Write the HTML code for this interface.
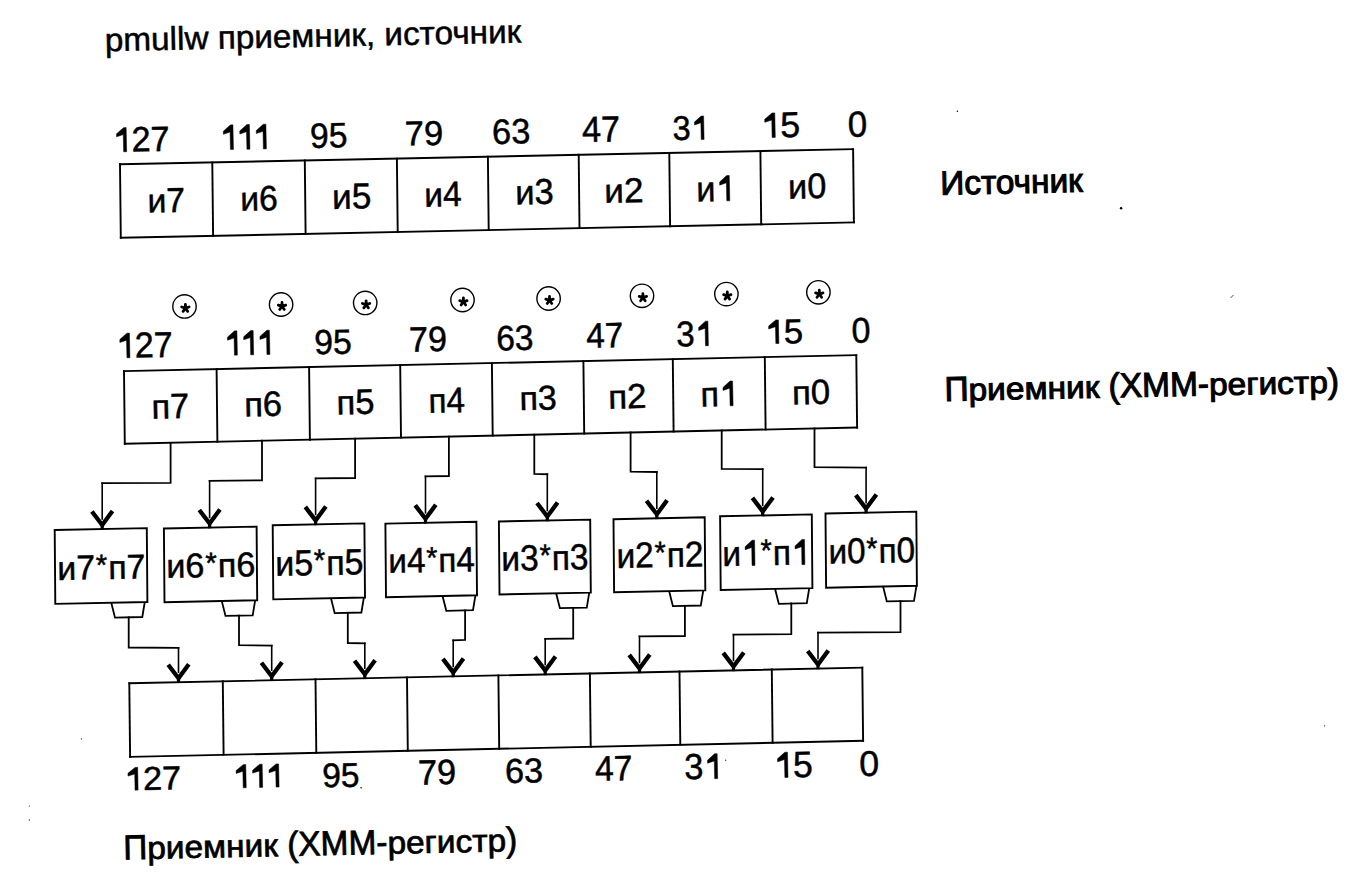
<!DOCTYPE html>
<html><head><meta charset="utf-8"><style>
html,body{margin:0;padding:0;background:#fff;width:1348px;height:877px;overflow:hidden}
svg{display:block}
text{font-family:"Liberation Sans",sans-serif;fill:#000;stroke:#000;stroke-width:0.5px;text-rendering:geometricPrecision}
.h{fill:none;stroke:none}
.one{fill:#000;stroke:#000;stroke-width:0.5px;stroke-linejoin:round}
</style></head><body>
<svg width="1348" height="877" viewBox="0 0 1348 877">
<rect width="1348" height="877" fill="#fff"/>
<g fill="none" stroke="#000" stroke-linejoin="miter" stroke-linecap="square">
<path d="M120.0,164.3 L853.1,149.1" stroke-width="1.9"/>
<path d="M120.8,237.8 L853.9,222.4" stroke-width="1.9"/>
<path d="M120.0,164.3 L120.8,237.8" stroke-width="1.9"/>
<path d="M212.3,162.4 L213.1,235.8" stroke-width="1.9"/>
<path d="M304.8,160.5 L305.6,233.9" stroke-width="1.9"/>
<path d="M396.9,158.6 L397.7,232.0" stroke-width="1.9"/>
<path d="M487.9,156.7 L488.7,230.1" stroke-width="1.9"/>
<path d="M578.7,154.8 L579.5,228.1" stroke-width="1.9"/>
<path d="M669.3,152.9 L670.1,226.2" stroke-width="1.9"/>
<path d="M760.4,151.0 L761.2,224.3" stroke-width="1.9"/>
<path d="M853.1,149.1 L853.9,222.4" stroke-width="1.9"/>
<path d="M124.0,371.1 L856.3,355.1" stroke-width="1.9"/>
<path d="M124.8,443.8 L857.1,427.5" stroke-width="1.9"/>
<path d="M124.0,371.1 L124.8,443.8" stroke-width="1.9"/>
<path d="M216.6,369.1 L217.4,441.7" stroke-width="1.9"/>
<path d="M309.1,367.1 L309.9,439.7" stroke-width="1.9"/>
<path d="M400.2,365.1 L401.0,437.6" stroke-width="1.9"/>
<path d="M491.9,363.1 L492.7,435.6" stroke-width="1.9"/>
<path d="M583.4,361.1 L584.2,433.6" stroke-width="1.9"/>
<path d="M672.8,359.1 L673.6,431.6" stroke-width="1.9"/>
<path d="M764.8,357.1 L765.6,429.5" stroke-width="1.9"/>
<path d="M856.3,355.1 L857.1,427.5" stroke-width="1.9"/>
<path d="M129.3,683.3 L862.3,667.6" stroke-width="1.9"/>
<path d="M130.1,756.9 L863.1,740.8" stroke-width="1.9"/>
<path d="M129.3,683.3 L130.1,756.9" stroke-width="1.9"/>
<path d="M222.8,681.3 L223.6,754.8" stroke-width="1.9"/>
<path d="M315.5,679.3 L316.3,752.8" stroke-width="1.9"/>
<path d="M407.0,677.4 L407.8,750.8" stroke-width="1.9"/>
<path d="M498.4,675.4 L499.2,748.8" stroke-width="1.9"/>
<path d="M589.9,673.4 L590.7,746.8" stroke-width="1.9"/>
<path d="M679.5,671.5 L680.3,744.8" stroke-width="1.9"/>
<path d="M771.8,669.5 L772.6,742.8" stroke-width="1.9"/>
<path d="M862.3,667.6 L863.1,740.8" stroke-width="1.9"/>
<path d="M54.7,530.0 L146.8,528.1 L147.4,602.0 L55.3,603.9 Z" stroke-width="1.9"/>
<path d="M163.9,528.5 L256.6,526.6 L257.2,600.3 L164.5,602.2 Z" stroke-width="1.9"/>
<path d="M272.7,525.3 L364.4,523.4 L365.0,597.5 L273.3,599.4 Z" stroke-width="1.9"/>
<path d="M385.4,523.6 L476.4,521.7 L477.0,595.3 L386.0,597.2 Z" stroke-width="1.9"/>
<path d="M498.9,521.5 L590.2,519.6 L590.8,592.6 L499.5,594.5 Z" stroke-width="1.9"/>
<path d="M613.5,519.2 L704.7,517.3 L705.3,590.4 L614.1,592.3 Z" stroke-width="1.9"/>
<path d="M720.1,516.3 L811.8,514.4 L812.4,588.1 L720.7,590.0 Z" stroke-width="1.9"/>
<path d="M825.5,513.5 L916.3,511.6 L916.9,585.8 L826.1,587.7 Z" stroke-width="1.9"/>
<path d="M111.5,603.7 L115.0,617.6 L142.3,617.0 L144.6,603.0" stroke-width="1.8"/>
<path d="M222.0,602.0 L225.5,615.9 L252.7,615.3 L255.0,601.3" stroke-width="1.8"/>
<path d="M331.2,599.2 L334.7,613.1 L361.4,612.5 L363.7,598.5" stroke-width="1.8"/>
<path d="M442.8,597.0 L446.3,610.8 L473.0,610.2 L475.3,596.3" stroke-width="1.8"/>
<path d="M556.4,594.3 L559.9,608.2 L586.8,607.6 L589.1,593.6" stroke-width="1.8"/>
<path d="M669.4,592.1 L672.9,606.1 L700.8,605.5 L703.1,591.4" stroke-width="1.8"/>
<path d="M775.3,589.8 L778.8,603.8 L806.8,603.2 L809.1,589.1" stroke-width="1.8"/>
<path d="M883.3,587.5 L886.8,601.4 L914.0,600.8 L916.3,586.8" stroke-width="1.8"/>
<path d="M170.6,442.8 L170.6,482.8 L102.2,483.2" stroke-width="1.8"/>
<path d="M102.2,483.2 L102.2,519.0" stroke-width="1.6"/>
<path d="M91.9,511.5 L102.2,525.0 L112.5,511.0" stroke-width="4.3" stroke-linejoin="round" stroke-linecap="butt"/>
<path d="M102.2,525.0 L102.2,529.8" stroke-width="3.2" stroke-linecap="butt"/>
<path d="M262.0,440.7 L262.0,480.4 L209.6,480.8" stroke-width="1.8"/>
<path d="M209.6,480.8 L209.6,517.5" stroke-width="1.6"/>
<path d="M199.3,510.0 L209.6,523.5 L219.9,509.5" stroke-width="4.3" stroke-linejoin="round" stroke-linecap="butt"/>
<path d="M209.6,523.5 L209.6,528.3" stroke-width="3.2" stroke-linecap="butt"/>
<path d="M355.1,438.7 L355.1,478.0 L315.6,478.4" stroke-width="1.8"/>
<path d="M315.6,478.4 L315.6,514.4" stroke-width="1.6"/>
<path d="M305.3,506.9 L315.6,520.4 L325.9,506.4" stroke-width="4.3" stroke-linejoin="round" stroke-linecap="butt"/>
<path d="M315.6,520.4 L315.6,525.2" stroke-width="3.2" stroke-linecap="butt"/>
<path d="M448.9,436.6 L448.9,476.0 L425.5,476.4" stroke-width="1.8"/>
<path d="M425.5,476.4 L425.5,512.8" stroke-width="1.6"/>
<path d="M415.2,505.3 L425.5,518.8 L435.8,504.8" stroke-width="4.3" stroke-linejoin="round" stroke-linecap="butt"/>
<path d="M425.5,518.8 L425.5,523.6" stroke-width="3.2" stroke-linecap="butt"/>
<path d="M534.3,434.7 L534.3,473.8 L547.3,474.2" stroke-width="1.8"/>
<path d="M547.3,474.2 L547.3,510.5" stroke-width="1.6"/>
<path d="M537.0,503.0 L547.3,516.5 L557.6,502.5" stroke-width="4.3" stroke-linejoin="round" stroke-linecap="butt"/>
<path d="M547.3,516.5 L547.3,521.3" stroke-width="3.2" stroke-linecap="butt"/>
<path d="M630.6,432.5 L630.6,471.6 L656.8,472.0" stroke-width="1.8"/>
<path d="M656.8,472.0 L656.8,508.3" stroke-width="1.6"/>
<path d="M646.5,500.8 L656.8,514.3 L667.1,500.3" stroke-width="4.3" stroke-linejoin="round" stroke-linecap="butt"/>
<path d="M656.8,514.3 L656.8,519.1" stroke-width="3.2" stroke-linecap="butt"/>
<path d="M721.7,430.5 L721.7,468.8 L762.7,469.2" stroke-width="1.8"/>
<path d="M762.7,469.2 L762.7,505.4" stroke-width="1.6"/>
<path d="M752.4,497.9 L762.7,511.4 L773.0,497.4" stroke-width="4.3" stroke-linejoin="round" stroke-linecap="butt"/>
<path d="M762.7,511.4 L762.7,516.2" stroke-width="3.2" stroke-linecap="butt"/>
<path d="M814.5,428.4 L814.5,467.2 L866.1,467.6" stroke-width="1.8"/>
<path d="M866.1,467.6 L866.1,502.6" stroke-width="1.6"/>
<path d="M855.8,495.1 L866.1,508.6 L876.4,494.6" stroke-width="4.3" stroke-linejoin="round" stroke-linecap="butt"/>
<path d="M866.1,508.6 L866.1,513.4" stroke-width="3.2" stroke-linecap="butt"/>
<path d="M128.7,617.3 L128.7,647.5 L178.5,647.9" stroke-width="1.8"/>
<path d="M178.5,647.9 L178.5,672.2" stroke-width="1.6"/>
<path d="M168.2,664.7 L178.5,678.2 L188.8,664.2" stroke-width="4.3" stroke-linejoin="round" stroke-linecap="butt"/>
<path d="M178.5,678.2 L178.5,683.0" stroke-width="3.2" stroke-linecap="butt"/>
<path d="M239.0,615.6 L239.0,645.2 L271.7,645.6" stroke-width="1.8"/>
<path d="M271.7,645.6 L271.7,670.2" stroke-width="1.6"/>
<path d="M261.4,662.7 L271.7,676.2 L282.0,662.2" stroke-width="4.3" stroke-linejoin="round" stroke-linecap="butt"/>
<path d="M271.7,676.2 L271.7,681.0" stroke-width="3.2" stroke-linecap="butt"/>
<path d="M347.8,612.8 L347.8,643.0 L364.8,643.4" stroke-width="1.8"/>
<path d="M364.8,643.4 L364.8,668.3" stroke-width="1.6"/>
<path d="M354.5,660.8 L364.8,674.3 L375.1,660.3" stroke-width="4.3" stroke-linejoin="round" stroke-linecap="butt"/>
<path d="M364.8,674.3 L364.8,679.1" stroke-width="3.2" stroke-linecap="butt"/>
<path d="M465.1,610.5 L465.1,640.0 L453.2,640.4" stroke-width="1.8"/>
<path d="M453.2,640.4 L453.2,666.4" stroke-width="1.6"/>
<path d="M442.9,658.9 L453.2,672.4 L463.5,658.4" stroke-width="4.3" stroke-linejoin="round" stroke-linecap="butt"/>
<path d="M453.2,672.4 L453.2,677.2" stroke-width="3.2" stroke-linecap="butt"/>
<path d="M573.2,607.9 L573.2,638.5 L545.2,638.9" stroke-width="1.8"/>
<path d="M545.2,638.9 L545.2,664.4" stroke-width="1.6"/>
<path d="M534.9,656.9 L545.2,670.4 L555.5,656.4" stroke-width="4.3" stroke-linejoin="round" stroke-linecap="butt"/>
<path d="M545.2,670.4 L545.2,675.2" stroke-width="3.2" stroke-linecap="butt"/>
<path d="M684.9,605.8 L684.9,636.0 L639.5,636.4" stroke-width="1.8"/>
<path d="M639.5,636.4 L639.5,662.4" stroke-width="1.6"/>
<path d="M629.2,654.9 L639.5,668.4 L649.8,654.4" stroke-width="4.3" stroke-linejoin="round" stroke-linecap="butt"/>
<path d="M639.5,668.4 L639.5,673.2" stroke-width="3.2" stroke-linecap="butt"/>
<path d="M791.3,603.5 L791.3,634.2 L733.5,634.6" stroke-width="1.8"/>
<path d="M733.5,634.6 L733.5,660.4" stroke-width="1.6"/>
<path d="M723.2,652.9 L733.5,666.4 L743.8,652.4" stroke-width="4.3" stroke-linejoin="round" stroke-linecap="butt"/>
<path d="M733.5,666.4 L733.5,671.2" stroke-width="3.2" stroke-linecap="butt"/>
<path d="M900.5,601.1 L900.5,632.2 L818.0,632.6" stroke-width="1.8"/>
<path d="M818.0,632.6 L818.0,658.5" stroke-width="1.6"/>
<path d="M807.7,651.0 L818.0,664.5 L828.3,650.5" stroke-width="4.3" stroke-linejoin="round" stroke-linecap="butt"/>
<path d="M818.0,664.5 L818.0,669.3" stroke-width="3.2" stroke-linecap="butt"/>
</g>
<circle cx="184.5" cy="306.4" r="11.7" fill="none" stroke="#000" stroke-width="1.4"/>
<path d="M185.4,308.2 l0.00,-3.90 M185.4,308.2 l3.71,-1.21 M185.4,308.2 l2.29,3.16 M185.4,308.2 l-2.29,3.16 M185.4,308.2 l-3.71,-1.21" stroke="#000" stroke-width="2.8" stroke-linecap="round" fill="none"/>
<circle cx="281.1" cy="304.5" r="11.7" fill="none" stroke="#000" stroke-width="1.4"/>
<path d="M282.0,306.3 l0.00,-3.90 M282.0,306.3 l3.71,-1.21 M282.0,306.3 l2.29,3.16 M282.0,306.3 l-2.29,3.16 M282.0,306.3 l-3.71,-1.21" stroke="#000" stroke-width="2.8" stroke-linecap="round" fill="none"/>
<circle cx="365.2" cy="302.9" r="11.7" fill="none" stroke="#000" stroke-width="1.4"/>
<path d="M366.1,304.7 l0.00,-3.90 M366.1,304.7 l3.71,-1.21 M366.1,304.7 l2.29,3.16 M366.1,304.7 l-2.29,3.16 M366.1,304.7 l-3.71,-1.21" stroke="#000" stroke-width="2.8" stroke-linecap="round" fill="none"/>
<circle cx="462.5" cy="300.0" r="11.7" fill="none" stroke="#000" stroke-width="1.4"/>
<path d="M463.4,301.8 l0.00,-3.90 M463.4,301.8 l3.71,-1.21 M463.4,301.8 l2.29,3.16 M463.4,301.8 l-2.29,3.16 M463.4,301.8 l-3.71,-1.21" stroke="#000" stroke-width="2.8" stroke-linecap="round" fill="none"/>
<circle cx="548.6" cy="298.5" r="11.7" fill="none" stroke="#000" stroke-width="1.4"/>
<path d="M549.5,300.3 l0.00,-3.90 M549.5,300.3 l3.71,-1.21 M549.5,300.3 l2.29,3.16 M549.5,300.3 l-2.29,3.16 M549.5,300.3 l-3.71,-1.21" stroke="#000" stroke-width="2.8" stroke-linecap="round" fill="none"/>
<circle cx="642.0" cy="295.8" r="11.7" fill="none" stroke="#000" stroke-width="1.4"/>
<path d="M642.9,297.6 l0.00,-3.90 M642.9,297.6 l3.71,-1.21 M642.9,297.6 l2.29,3.16 M642.9,297.6 l-2.29,3.16 M642.9,297.6 l-3.71,-1.21" stroke="#000" stroke-width="2.8" stroke-linecap="round" fill="none"/>
<circle cx="726.4" cy="294.1" r="11.7" fill="none" stroke="#000" stroke-width="1.4"/>
<path d="M727.3,295.9 l0.00,-3.90 M727.3,295.9 l3.71,-1.21 M727.3,295.9 l2.29,3.16 M727.3,295.9 l-2.29,3.16 M727.3,295.9 l-3.71,-1.21" stroke="#000" stroke-width="2.8" stroke-linecap="round" fill="none"/>
<circle cx="818.4" cy="292.3" r="11.7" fill="none" stroke="#000" stroke-width="1.4"/>
<path d="M819.3,294.1 l0.00,-3.90 M819.3,294.1 l3.71,-1.21 M819.3,294.1 l2.29,3.16 M819.3,294.1 l-2.29,3.16 M819.3,294.1 l-3.71,-1.21" stroke="#000" stroke-width="2.8" stroke-linecap="round" fill="none"/>
<circle cx="1121.1" cy="208.3" r="1.2" fill="#000"/>
<circle cx="957.4" cy="111.2" r="0.7" fill="#000"/>
<circle cx="1324.6" cy="725.8" r="0.6" fill="#000"/>
<circle cx="81.4" cy="738.8" r="0.6" fill="#000"/>
<circle cx="29.3" cy="806" r="0.6" fill="#000"/>
<circle cx="29.3" cy="819.9" r="0.6" fill="#000"/>
<circle cx="361.1" cy="787.7" r="0.8" fill="#000"/>
<circle cx="725.7" cy="760.2" r="0.6" fill="#000"/>
<path d="M1230.5,298 L1233.5,295" stroke="#000" stroke-width="0.7" fill="none"/>
<g>
<g transform="translate(105.07,51.20) rotate(-1.2) scale(1.0223,1)"><text font-size="32.60">pmullw приемник, источник</text></g>
<g transform="translate(112.61,152.00) rotate(-1.2) scale(0.9780,1)"><text x="19.50" font-size="35.06">2</text><text x="39.00" font-size="35.06">7</text><path class="one" d="M14.37,-24.12 L14.37,-0.00 L11.29,-0.00 L11.29,-17.18 L4.38,-15.08 L4.38,-18.06 L11.74,-24.12 Z"/></g>
<g transform="translate(219.43,149.80) rotate(-1.2) scale(0.9546,1)"><path class="one" d="M14.69,-24.64 L14.69,-0.00 L11.53,-0.00 L11.53,-17.55 L4.48,-15.40 L4.48,-18.45 L12.00,-24.64 Z M31.95,-24.64 L31.95,-0.00 L28.79,-0.00 L28.79,-17.55 L21.74,-15.40 L21.74,-18.45 L29.26,-24.64 Z M49.21,-24.64 L49.21,-0.00 L46.06,-0.00 L46.06,-17.55 L39.00,-15.40 L39.00,-18.45 L46.52,-24.64 Z"/></g>
<g transform="translate(310.32,148.00) rotate(-1.2) scale(0.9535,1)"><text x="0.00" font-size="35.26">9</text><text x="19.61" font-size="35.26">5</text></g>
<g transform="translate(405.04,145.60) rotate(-1.2) scale(1.0034,1)"><text x="0.00" font-size="34.39">7</text><text x="19.13" font-size="34.39">9</text></g>
<g transform="translate(492.35,143.90) rotate(-1.2) scale(0.9772,1)"><text x="0.00" font-size="35.11">6</text><text x="19.53" font-size="35.11">3</text></g>
<g transform="translate(582.31,142.10) rotate(-1.2) scale(0.9465,1)"><text x="0.00" font-size="36.19">4</text><text x="20.13" font-size="36.19">7</text></g>
<g transform="translate(672.66,140.10) rotate(-1.2) scale(0.9564,1)"><text x="0.00" font-size="34.02">3</text><path class="one" d="M32.87,-23.41 L32.87,-0.00 L29.88,-0.00 L29.88,-16.67 L23.17,-14.63 L23.17,-17.52 L30.32,-23.41 Z"/></g>
<g transform="translate(760.63,137.70) rotate(-1.2) scale(1.0035,1)"><text x="19.82" font-size="35.63">5</text><path class="one" d="M14.61,-24.52 L14.61,-0.00 L11.47,-0.00 L11.47,-17.46 L4.45,-15.32 L4.45,-18.35 L11.94,-24.52 Z"/></g>
<g transform="translate(847.94,136.80) rotate(-1.2) scale(0.9692,1)"><text x="0.00" font-size="36.05">0</text></g>
<g transform="translate(147.67,212.60) rotate(-1.2) scale(0.9708,1)"><text x="0.00" font-size="34.77" transform="scale(1,0.965)">и</text><text x="19.42" font-size="34.77">7</text></g>
<g transform="translate(240.58,210.80) rotate(-1.2) scale(0.9618,1)"><text x="0.00" font-size="34.98" transform="scale(1,0.965)">и</text><text x="19.54" font-size="34.98">6</text></g>
<g transform="translate(332.37,208.90) rotate(-1.2) scale(0.9796,1)"><text x="0.00" font-size="35.91" transform="scale(1,0.965)">и</text><text x="20.06" font-size="35.91">5</text></g>
<g transform="translate(424.49,206.70) rotate(-1.2) scale(0.9502,1)"><text x="0.00" font-size="35.20" transform="scale(1,0.965)">и</text><text x="19.66" font-size="35.20">4</text></g>
<g transform="translate(515.42,204.50) rotate(-1.2) scale(0.9613,1)"><text x="0.00" font-size="35.83" transform="scale(1,0.965)">и</text><text x="20.02" font-size="35.83">3</text></g>
<g transform="translate(604.58,202.80) rotate(-1.2) scale(1.0025,1)"><text x="0.00" font-size="34.97" transform="scale(1,0.965)">и</text><text x="19.53" font-size="34.97">2</text></g>
<g transform="translate(696.53,201.50) rotate(-1.2) scale(0.9326,1)"><text x="0.00" font-size="36.83" transform="scale(1,0.965)">и</text><path class="one" d="M35.68,-25.34 L35.68,-0.00 L32.43,-0.00 L32.43,-18.05 L25.18,-15.84 L25.18,-18.97 L32.91,-25.34 Z"/></g>
<g transform="translate(788.34,198.70) rotate(-1.2) scale(0.9681,1)"><text x="0.00" font-size="35.40" transform="scale(1,0.965)">и</text><text x="19.78" font-size="35.40">0</text></g>
<g transform="translate(115.93,358.00) rotate(-1.2) scale(0.9546,1)"><text x="19.90" font-size="35.78">2</text><text x="39.80" font-size="35.78">7</text><path class="one" d="M14.67,-24.61 L14.67,-0.00 L11.52,-0.00 L11.52,-17.53 L4.47,-15.38 L4.47,-18.43 L11.99,-24.61 Z"/></g>
<g transform="translate(223.59,355.40) rotate(-1.2) scale(0.9565,1)"><path class="one" d="M14.45,-24.25 L14.45,-0.00 L11.35,-0.00 L11.35,-17.27 L4.41,-15.15 L4.41,-18.15 L11.81,-24.25 Z M31.43,-24.25 L31.43,-0.00 L28.33,-0.00 L28.33,-17.27 L21.39,-15.15 L21.39,-18.15 L28.79,-24.25 Z M48.42,-24.25 L48.42,-0.00 L45.32,-0.00 L45.32,-17.27 L38.38,-15.15 L38.38,-18.15 L45.78,-24.25 Z"/></g>
<g transform="translate(314.62,354.30) rotate(-1.2) scale(0.9721,1)"><text x="0.00" font-size="34.69">9</text><text x="19.29" font-size="34.69">5</text></g>
<g transform="translate(409.36,351.70) rotate(-1.2) scale(0.9716,1)"><text x="0.00" font-size="35.11">7</text><text x="19.53" font-size="35.11">9</text></g>
<g transform="translate(496.39,350.50) rotate(-1.2) scale(0.9507,1)"><text x="0.00" font-size="35.26">6</text><text x="19.61" font-size="35.26">3</text></g>
<g transform="translate(586.54,347.80) rotate(-1.2) scale(0.9396,1)"><text x="0.00" font-size="35.34">4</text><text x="19.65" font-size="35.34">7</text></g>
<g transform="translate(676.55,346.40) rotate(-1.2) scale(0.9226,1)"><text x="0.00" font-size="35.74">3</text><path class="one" d="M34.53,-24.59 L34.53,-0.00 L31.38,-0.00 L31.38,-17.51 L24.34,-15.37 L24.34,-18.40 L31.85,-24.59 Z"/></g>
<g transform="translate(764.66,343.80) rotate(-1.2) scale(1.0106,1)"><text x="19.10" font-size="34.34">5</text><path class="one" d="M14.08,-23.63 L14.08,-0.00 L11.06,-0.00 L11.06,-16.83 L4.29,-14.77 L4.29,-17.68 L11.50,-23.63 Z"/></g>
<g transform="translate(851.87,342.70) rotate(-1.2) scale(0.9573,1)"><text x="0.00" font-size="35.62">0</text></g>
<g transform="translate(151.72,418.70) rotate(-1.2) scale(0.9784,1)"><text x="0.00" font-size="35.20" transform="scale(1,0.965)">п</text><text x="19.06" font-size="35.20">7</text></g>
<g transform="translate(244.42,416.50) rotate(-1.2) scale(0.9833,1)"><text x="0.00" font-size="35.12" transform="scale(1,0.965)">п</text><text x="19.02" font-size="35.12">6</text></g>
<g transform="translate(336.71,414.50) rotate(-1.2) scale(0.9821,1)"><text x="0.00" font-size="35.20" transform="scale(1,0.965)">п</text><text x="19.06" font-size="35.20">5</text></g>
<g transform="translate(428.71,412.80) rotate(-1.2) scale(0.9329,1)"><text x="0.00" font-size="35.50" transform="scale(1,0.965)">п</text><text x="19.22" font-size="35.50">4</text></g>
<g transform="translate(519.65,410.10) rotate(-1.2) scale(0.9918,1)"><text x="0.00" font-size="34.41" transform="scale(1,0.965)">п</text><text x="18.63" font-size="34.41">3</text></g>
<g transform="translate(608.39,408.70) rotate(-1.2) scale(1.0075,1)"><text x="0.00" font-size="34.69" transform="scale(1,0.965)">п</text><text x="18.78" font-size="34.69">2</text></g>
<g transform="translate(700.65,406.40) rotate(-1.2) scale(0.9482,1)"><text x="0.00" font-size="35.97" transform="scale(1,0.965)">п</text><path class="one" d="M34.23,-24.75 L34.23,-0.00 L31.06,-0.00 L31.06,-17.63 L23.97,-15.47 L23.97,-18.52 L31.53,-24.75 Z"/></g>
<g transform="translate(792.19,404.50) rotate(-1.2) scale(1.0052,1)"><text x="0.00" font-size="34.69" transform="scale(1,0.965)">п</text><text x="18.78" font-size="34.69">0</text></g>
<g transform="translate(57.57,579.90) rotate(-0.9) scale(0.9781,1)"><text x="0.00" font-size="34.55" transform="scale(1,0.965)">и</text><text x="19.30" font-size="34.55">7</text><text x="39.46" y="-3.93" font-size="29.72">*</text><text x="51.97" font-size="34.55" transform="scale(1,0.965)">п</text><text x="70.68" font-size="34.55">7</text></g>
<g transform="translate(166.54,577.70) rotate(-0.9) scale(0.9866,1)"><text x="0.00" font-size="34.62" transform="scale(1,0.965)">и</text><text x="19.34" font-size="34.62">6</text><text x="39.54" y="-3.93" font-size="29.77">*</text><text x="52.07" font-size="34.62" transform="scale(1,0.965)">п</text><text x="70.82" font-size="34.62">6</text></g>
<g transform="translate(275.57,575.70) rotate(-0.9) scale(0.9315,1)"><text x="0.00" font-size="36.29" transform="scale(1,0.965)">и</text><text x="20.27" font-size="36.29">5</text><text x="41.45" y="-4.10" font-size="31.21">*</text><text x="54.58" font-size="36.29" transform="scale(1,0.965)">п</text><text x="74.24" font-size="36.29">5</text></g>
<g transform="translate(388.61,572.80) rotate(-0.9) scale(0.9368,1)"><text x="0.00" font-size="35.43" transform="scale(1,0.965)">и</text><text x="19.79" font-size="35.43">4</text><text x="40.46" y="-4.01" font-size="30.47">*</text><text x="53.29" font-size="35.43" transform="scale(1,0.965)">п</text><text x="72.47" font-size="35.43">4</text></g>
<g transform="translate(501.59,570.70) rotate(-0.9) scale(0.9244,1)"><text x="0.00" font-size="36.21" transform="scale(1,0.965)">и</text><text x="20.23" font-size="36.21">3</text><text x="41.35" y="-4.09" font-size="31.14">*</text><text x="54.46" font-size="36.21" transform="scale(1,0.965)">п</text><text x="74.07" font-size="36.21">3</text></g>
<g transform="translate(616.70,567.90) rotate(-0.9) scale(0.9258,1)"><text x="0.00" font-size="36.07" transform="scale(1,0.965)">и</text><text x="20.15" font-size="36.07">2</text><text x="41.19" y="-4.07" font-size="31.02">*</text><text x="54.25" font-size="36.07" transform="scale(1,0.965)">п</text><text x="73.78" font-size="36.07">2</text></g>
<g transform="translate(722.48,565.90) rotate(-0.9) scale(0.9165,1)"><text x="0.00" font-size="36.62" transform="scale(1,0.965)">и</text><text x="41.82" y="-4.13" font-size="31.50">*</text><text x="55.08" font-size="36.62" transform="scale(1,0.965)">п</text><path class="one" d="M35.47,-25.20 L35.47,-0.00 L32.25,-0.00 L32.25,-17.95 L25.04,-15.75 L25.04,-18.86 L32.73,-25.20 Z M89.92,-25.20 L89.92,-0.00 L86.70,-0.00 L86.70,-17.95 L79.49,-15.75 L79.49,-18.86 L87.18,-25.20 Z"/></g>
<g transform="translate(828.71,563.60) rotate(-0.9) scale(0.9291,1)"><text x="0.00" font-size="35.79" transform="scale(1,0.965)">и</text><text x="19.99" font-size="35.79">0</text><text x="40.87" y="-4.05" font-size="30.78">*</text><text x="53.82" font-size="35.79" transform="scale(1,0.965)">п</text><text x="73.20" font-size="35.79">0</text></g>
<g transform="translate(124.00,790.40) rotate(-1.2) scale(1.0414,1)"><text x="18.38" font-size="33.05">2</text><text x="36.76" font-size="33.05">7</text><path class="one" d="M13.55,-22.74 L13.55,-0.00 L10.64,-0.00 L10.64,-16.19 L4.13,-14.21 L4.13,-17.02 L11.07,-22.74 Z"/></g>
<g transform="translate(232.24,788.00) rotate(-1.2) scale(1.0140,1)"><path class="one" d="M13.79,-23.14 L13.79,-0.00 L10.83,-0.00 L10.83,-16.48 L4.20,-14.46 L4.20,-17.32 L11.27,-23.14 Z M30.00,-23.14 L30.00,-0.00 L27.04,-0.00 L27.04,-16.48 L20.42,-14.46 L20.42,-17.32 L27.48,-23.14 Z M46.21,-23.14 L46.21,-0.00 L43.25,-0.00 L43.25,-16.48 L36.63,-14.46 L36.63,-17.32 L43.69,-23.14 Z"/></g>
<g transform="translate(322.42,787.30) rotate(-1.2) scale(0.9827,1)"><text x="0.00" font-size="34.12">9</text><text x="18.97" font-size="34.12">5</text></g>
<g transform="translate(418.15,784.70) rotate(-1.2) scale(0.9773,1)"><text x="0.00" font-size="35.11">7</text><text x="19.53" font-size="35.11">9</text></g>
<g transform="translate(505.16,783.00) rotate(-1.2) scale(0.9906,1)"><text x="0.00" font-size="34.54">6</text><text x="19.21" font-size="34.54">3</text></g>
<g transform="translate(595.23,780.80) rotate(-1.2) scale(0.9533,1)"><text x="0.00" font-size="35.33">4</text><text x="19.65" font-size="35.33">7</text></g>
<g transform="translate(684.49,779.30) rotate(-1.2) scale(0.9507,1)"><text x="0.00" font-size="36.15">3</text><path class="one" d="M34.93,-24.87 L34.93,-0.00 L31.75,-0.00 L31.75,-17.71 L24.62,-15.54 L24.62,-18.62 L32.22,-24.87 Z"/></g>
<g transform="translate(773.47,777.70) rotate(-1.2) scale(0.9669,1)"><text x="20.39" font-size="36.66">5</text><path class="one" d="M15.03,-25.22 L15.03,-0.00 L11.80,-0.00 L11.80,-17.96 L4.58,-15.76 L4.58,-18.88 L12.28,-25.22 Z"/></g>
<g transform="translate(859.40,776.10) rotate(-1.2) scale(1.0046,1)"><text x="0.00" font-size="35.61">0</text></g>
<g transform="translate(940.46,194.80) rotate(-1.2) scale(0.9941,1)"><text font-size="33.60" style="stroke-width:1.1px">Источник</text></g>
<g transform="translate(944.69,400.90) rotate(-1.2) scale(0.9733,1)"><text x="0.00" font-size="34.40" style="stroke-width:1.1px">П</text><text x="24.72" font-size="34.40" transform="scale(1,0.91)" style="stroke-width:1.1px">р</text><text x="43.86" font-size="34.40" transform="scale(1,0.91)" style="stroke-width:1.1px">и</text><text x="63.07" font-size="34.40" transform="scale(1,0.91)" style="stroke-width:1.1px">е</text><text x="82.20" font-size="34.40" transform="scale(1,0.91)" style="stroke-width:1.1px">м</text><text x="105.85" font-size="34.40" transform="scale(1,0.91)" style="stroke-width:1.1px">н</text><text x="124.85" font-size="34.40" transform="scale(1,0.91)" style="stroke-width:1.1px">и</text><text x="144.07" font-size="34.40" transform="scale(1,0.91)" style="stroke-width:1.1px">к</text><text x="168.67" font-size="34.40" style="stroke-width:1.1px">(</text><text x="180.13" font-size="34.40" style="stroke-width:1.1px">X</text><text x="203.08" font-size="34.40" style="stroke-width:1.1px">M</text><text x="231.73" font-size="34.40" style="stroke-width:1.1px">M</text><text x="260.39" font-size="34.40" style="stroke-width:1.1px">-</text><text x="271.84" font-size="34.40" transform="scale(1,0.91)" style="stroke-width:1.1px">р</text><text x="290.97" font-size="34.40" transform="scale(1,0.91)" style="stroke-width:1.1px">е</text><text x="310.11" font-size="34.40" transform="scale(1,0.91)" style="stroke-width:1.1px">г</text><text x="322.65" font-size="34.40" transform="scale(1,0.91)" style="stroke-width:1.1px">и</text><text x="341.87" font-size="34.40" transform="scale(1,0.91)" style="stroke-width:1.1px">с</text><text x="359.07" font-size="34.40" transform="scale(1,0.91)" style="stroke-width:1.1px">т</text><text x="374.82" font-size="34.40" transform="scale(1,0.91)" style="stroke-width:1.1px">р</text><text x="393.96" font-size="34.40" style="stroke-width:1.1px">)</text></g>
<g transform="translate(123.49,859.40) rotate(-1.2) scale(0.9664,1)"><text x="0.00" font-size="34.60" style="stroke-width:0.8px">П</text><text x="24.87" font-size="34.60" transform="scale(1,0.92)" style="stroke-width:0.8px">р</text><text x="44.11" font-size="34.60" transform="scale(1,0.92)" style="stroke-width:0.8px">и</text><text x="63.44" font-size="34.60" transform="scale(1,0.92)" style="stroke-width:0.8px">е</text><text x="82.68" font-size="34.60" transform="scale(1,0.92)" style="stroke-width:0.8px">м</text><text x="106.47" font-size="34.60" transform="scale(1,0.92)" style="stroke-width:0.8px">н</text><text x="125.58" font-size="34.60" transform="scale(1,0.92)" style="stroke-width:0.8px">и</text><text x="144.90" font-size="34.60" transform="scale(1,0.92)" style="stroke-width:0.8px">к</text><text x="169.66" font-size="34.60" style="stroke-width:0.8px">(</text><text x="181.18" font-size="34.60" style="stroke-width:0.8px">X</text><text x="204.26" font-size="34.60" style="stroke-width:0.8px">M</text><text x="233.08" font-size="34.60" style="stroke-width:0.8px">M</text><text x="261.90" font-size="34.60" style="stroke-width:0.8px">-</text><text x="273.42" font-size="34.60" transform="scale(1,0.92)" style="stroke-width:0.8px">р</text><text x="292.67" font-size="34.60" transform="scale(1,0.92)" style="stroke-width:0.8px">е</text><text x="311.91" font-size="34.60" transform="scale(1,0.92)" style="stroke-width:0.8px">г</text><text x="324.53" font-size="34.60" transform="scale(1,0.92)" style="stroke-width:0.8px">и</text><text x="343.86" font-size="34.60" transform="scale(1,0.92)" style="stroke-width:0.8px">с</text><text x="361.16" font-size="34.60" transform="scale(1,0.92)" style="stroke-width:0.8px">т</text><text x="377.00" font-size="34.60" transform="scale(1,0.92)" style="stroke-width:0.8px">р</text><text x="396.25" font-size="34.60" style="stroke-width:0.8px">)</text></g>
</g>
</svg>
</body></html>
